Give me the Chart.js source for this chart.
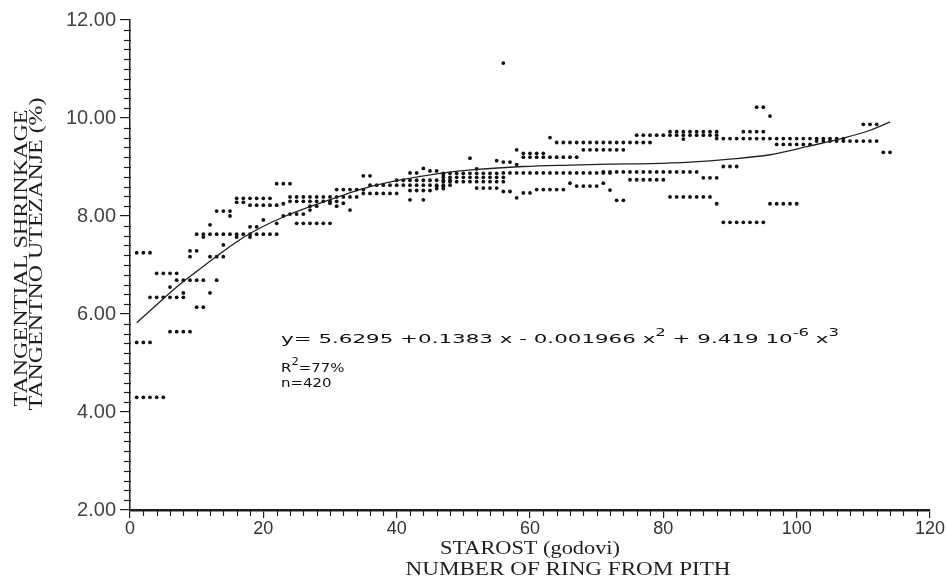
<!DOCTYPE html>
<html>
<head>
<meta charset="utf-8">
<script src="https://cdn.jsdelivr.net/npm/chart.js@4.4.1/dist/chart.umd.min.js"></script>
<style>
  html, body { margin: 0; padding: 0; background: #ffffff; }
  #c { display: block; }
</style>
</head>
<body>
<canvas id="c" width="947" height="581"></canvas>
<script>
// ---- data ----
// each row: one shrinkage level (y) observed at a list of ring numbers (x)
const rowShrink = [
  7.25, 5.42, 4.30, 6.83, 6.34, 6.43, 6.55, 6.69, 6.14, 5.64,
  7.29, 7.17, 7.41, 7.82, 7.63, 7.57, 8.10, 8.00, 8.36, 8.28,
  8.22, 7.78, 7.92, 8.66, 8.39, 8.30, 8.25, 8.04, 8.12, 8.20,
  7.85, 8.54, 8.26, 8.82, 8.63, 8.46, 8.73, 8.88, 8.97, 8.92,
  8.52, 8.33, 8.56, 8.84, 8.87, 8.79, 8.70, 8.60, 8.57, 8.50,
  8.37, 8.47, 8.67, 8.61, 9.18, 8.96, 9.13, 9.10, 9.35, 9.05,
  9.20, 9.28, 9.60, 9.50, 9.65, 9.72, 9.57, 9.58, 10.22, 10.04,
  8.90, 8.74, 8.78, 9.01, 8.53, 8.32, 7.87, 9.46, 9.53, 9.87,
  9.30, 11.12
];
const rowRings = [
  [1,2,3], [1,2,3], [1,2,3,4,5], [4,5,6,7], [3,4,5,6,7,8], [8,12], [6], [7,8,9,10,11,13], [10,11], [6,7,8,9],
  [9,10], [9,12,13,14], [14], [12], [10,11,12,13,14,15,16,17,18,19,20,21,22], [11,16,18], [13,14,15], [15,23], [16,17,18,19,20,21], [16,17],
  [18,19,20,21,22], [18,19], [20], [22,23,24], [24,25,26,27,28,29,30,31,32,33,34,81,82,83,84,85,86,87], [24,25,26,27,28,29,30,31], [23,88,96,97,98,99,100], [24,25,26], [27,33], [27,28,31],
  [22,25,26,27,28,29,30], [31,32,33,34,35,61,62,63,64,65], [30,32], [35,36], [36,37,38,39,40,41,42,43,44,45,46,47,48], [35,36,37,38,39,40], [40,41,42,43,44,45,46,47,48], [42,43,56,57,58,59,60,61,62,63,64,65,66,67,68,69,70,71,72], [44], [45,46],
  [42,43,44,45], [42,44], [46,47], [47], [47,48,49,50,51,52,53,54,55], [47,48,49,50,51,52,53,54,55,56], [47,48,49,50,51,52,53,54,55,56], [46,47], [52,53,54,55], [56,57],
  [58], [59,60], [66,71], [67,68,69,70], [51], [52], [55], [56,57], [58,68,69,70,71,72,73,74], [58],
  [59,60,61,62,63,64,65,66,67], [59,60,61,62], [63], [64,65,66,67,68,69,70,71,72,73,74,75,76,77,78], [76,77,78,79,80,81,82,83,84,85,86,87,88], [81,82,83,84,85,86,87,88,92,93,94,95], [83], [88,89,90,91,92,93,94,95,96,97,98,99,100,101,102,103,104,105,106,107], [94,95], [96],
  [71,72,73,74,75,76,77,78,79,80,81,82,83,84,85], [75,76,77,78,79,80], [86,87,88], [89,90,91], [72], [73,74], [89,90,91,92,93,94,95], [97,98,99,100,101,102], [103,104,105,106,107,108,109,110,111,112], [110,111,112],
  [113,114], [56]
];
// fitted curve
const curveRing = [1, 4, 7, 10, 13, 17, 20, 23, 27, 31, 35, 40, 46, 52, 59, 66, 72, 78, 84, 90, 96, 102, 107, 111, 114];
const curveShrink = [5.82, 6.19, 6.55, 6.87, 7.18, 7.56, 7.79, 7.98, 8.19, 8.38, 8.56, 8.72, 8.86, 8.95, 9.01, 9.04, 9.06, 9.07, 9.10, 9.16, 9.25, 9.43, 9.59, 9.75, 9.92];

const xMin = 0, xMax = 120, xStep = 20, xMinorStep = 2;
const yMin = 2, yMax = 12, yStep = 2, yMinorStep = 0.2;

const eqMain = 'y= 5.6295 +0.1383 x - 0.001966 x';
const yTitle = ['TANGENTIAL SHRINKAGE', 'TANGENTNO UTEZANJE (%)'];
const xTitle = ['STAROST (godovi)', 'NUMBER OF RING FROM PITH'];

// ---- build datasets ----
const scatterPts = [];
rowShrink.forEach((v, i) => rowRings[i].forEach(r => scatterPts.push({ x: r, y: v })));
const curvePts = curveRing.map((r, i) => ({ x: r, y: curveShrink[i] }));

const INK = '#1e1e1e';

function fitText(ctx, text, cx, cy, targetW) {
  const w = ctx.measureText(text).width;
  ctx.save();
  ctx.translate(cx, cy);
  ctx.scale(targetW / w, 1);
  ctx.textAlign = 'center';
  ctx.textBaseline = 'middle';
  ctx.fillText(text, 0, 0);
  ctx.restore();
}

function richLine(ctx, parts, x0, baseY, targetW) {
  // parts: [text, isSup]
  const baseFont = '13px "DejaVu Sans"';
  const supFont = '10px "DejaVu Sans"';
  let total = 0;
  parts.forEach(p => { ctx.font = p[1] ? supFont : baseFont; total += ctx.measureText(p[0]).width; });
  const sx = targetW ? targetW / total : 1.15;
  ctx.save();
  ctx.translate(x0, baseY);
  ctx.scale(sx, 1);
  ctx.textBaseline = 'alphabetic';
  ctx.textAlign = 'left';
  let x = 0;
  parts.forEach(p => {
    ctx.font = p[1] ? supFont : baseFont;
    ctx.fillText(p[0], x, p[1] ? -7 : 0);
    x += ctx.measureText(p[0]).width;
  });
  ctx.restore();
}

const decor = {
  id: 'decor',
  afterDraw(chart) {
    const ctx = chart.ctx;
    const xs = chart.scales.x, ys = chart.scales.y;
    ctx.save();
    ctx.strokeStyle = INK;
    ctx.lineWidth = 1.2;
    // minor ticks y
    const nY = Math.round((yMax - yMin) / yMinorStep);
    for (let i = 0; i <= nY; i++) {
      if (i % Math.round(yStep / yMinorStep) === 0) continue;
      const py = Math.round(ys.getPixelForValue(yMin + i * yMinorStep)) + 0.5;
      ctx.beginPath(); ctx.moveTo(xs.left - 6, py); ctx.lineTo(xs.left + 1, py); ctx.stroke();
    }
    const nX = Math.round((xMax - xMin) / xMinorStep);
    for (let i = 0; i <= nX; i++) {
      if (i % Math.round(xStep / xMinorStep) === 0) continue;
      const px = Math.round(xs.getPixelForValue(xMin + i * xMinorStep)) + 0.5;
      ctx.beginPath(); ctx.moveTo(px, ys.bottom); ctx.lineTo(px, ys.bottom + 6); ctx.stroke();
    }
    // axis titles
    ctx.fillStyle = INK;
    ctx.font = '19px "Liberation Serif"';
    ctx.save();
    ctx.translate(22, 258);
    ctx.rotate(-Math.PI / 2);
    fitText(ctx, yTitle[0], 0, 0, 297);
    ctx.restore();
    ctx.save();
    ctx.translate(37, 254);
    ctx.rotate(-Math.PI / 2);
    fitText(ctx, yTitle[1], 0, 0, 313);
    ctx.restore();
    ctx.font = '19px "Liberation Serif"';
    fitText(ctx, xTitle[0], 530, 549, 180);
    fitText(ctx, xTitle[1], 568, 570, 325);
    // equation
    ctx.fillStyle = '#111';
    richLine(ctx, [[eqMain, false], ['2', true], [' + 9.419 10', false], ['-6', true], [' x', false], ['3', true]], 281, 343, 558);
    richLine(ctx, [['R', false], ['2', true], ['=77%', false]], 281, 372, 0);
    richLine(ctx, [['n=420', false]], 281, 387, 0);
    ctx.restore();
  }
};

new Chart(document.getElementById('c'), {
  type: 'scatter',
  data: {
    datasets: [
      {
        type: 'scatter',
        data: scatterPts,
        pointRadius: 1.9,
        pointHoverRadius: 1.9,
        pointBackgroundColor: '#111',
        pointBorderWidth: 0,
        order: 2
      },
      {
        type: 'line',
        data: curvePts,
        borderColor: '#222',
        borderWidth: 1.3,
        pointRadius: 0,
        fill: false,
        cubicInterpolationMode: 'monotone',
        order: 1
      }
    ]
  },
  options: {
    responsive: false,
    animation: false,
    devicePixelRatio: 1,
    layout: { padding: { left: 0, right: 17, top: 20, bottom: 0 } },
    plugins: { legend: { display: false }, tooltip: { enabled: false }, title: { display: false } },
    scales: {
      x: {
        type: 'linear',
        min: xMin, max: xMax,
        afterFit(scale) { scale.height = 71; },
        ticks: { stepSize: xStep, color: '#333', font: { family: 'Liberation Sans', size: 18 }, padding: 0, maxRotation: 0, autoSkip: false },
        grid: { drawOnChartArea: false, drawTicks: true, tickLength: 8, color: INK, lineWidth: 1.2 },
        border: { display: true, color: INK, width: 2.5 }
      },
      y: {
        type: 'linear',
        min: yMin, max: yMax,
        afterFit(scale) { scale.width = 130; },
        ticks: { stepSize: yStep, color: '#444', font: { family: 'Liberation Sans', size: 20 }, padding: 4, callback: v => v.toFixed(2) },
        grid: { drawOnChartArea: false, drawTicks: true, tickLength: 10, color: INK, lineWidth: 1.2 },
        border: { display: true, color: INK, width: 1.5 }
      }
    }
  },
  plugins: [decor]
});
</script>
</body>
</html>
